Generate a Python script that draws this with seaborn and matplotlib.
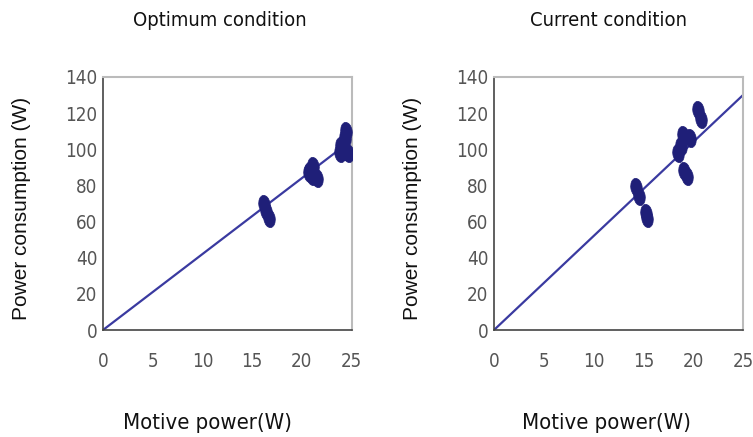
import matplotlib
matplotlib.use("Agg")
import matplotlib.pyplot as plt
from matplotlib.markers import MarkerStyle
from matplotlib.transforms import Affine2D
import seaborn as sns

# ---- data ----
opt_x = [16.2, 16.4, 16.7, 20.8, 21.1, 21.0, 21.5, 20.7, 24.3, 24.4, 23.9, 24.2, 24.6, 23.8]
opt_y = [70, 66, 62, 88, 91, 85, 84, 87, 106, 110, 102, 99, 98, 98]
cur_x = [20.5, 20.8, 19.0, 19.7, 18.8, 18.5, 19.1, 19.4, 14.3, 14.6, 15.3, 15.4]
cur_y = [122, 117, 108, 106, 102, 98, 88, 85, 79, 74, 65, 62]
line_x = [0, 25]
opt_line_y = [0, 105]
cur_line_y = [0, 130]
titles = ["Optimum condition", "Current condition"]
xlabel = "Motive power(W)"
ylabel = "Power consumption (W)"
xticks = [0, 5, 10, 15, 20, 25]
yticks = [0, 20, 40, 60, 80, 100, 120, 140]

sns.set_style("white")
plt.rcParams["font.family"] = ["Liberation Sans", "DejaVu Sans"]
narrow = dict(family=["DejaVu Sans"], stretch="condensed")

fig = plt.figure(figsize=(7.53, 4.37), dpi=100)
ax1 = fig.add_axes([103/753, 1-330/437, 248.5/753, 253/437])
ax2 = fig.add_axes([494/753, 1-330/437, 249/753, 253/437])

pt_col = "#1f1f78"
ln_col = "#3a3aa0"
mk = MarkerStyle("o", transform=Affine2D().scale(0.62, 1.0).rotate_deg(8))

sets = [(ax1, opt_x, opt_y, opt_line_y), (ax2, cur_x, cur_y, cur_line_y)]
for i, (ax, xs, ys, ly) in enumerate(sets):
    sns.lineplot(x=line_x, y=ly, ax=ax, color=ln_col, lw=1.6)
    sns.scatterplot(x=xs, y=ys, ax=ax, color=pt_col, marker=mk, s=175,
                    edgecolor=pt_col, linewidth=0.5, zorder=3)
    ax.set_xlim(0, 25)
    ax.set_ylim(0, 140)
    ax.set_xticks(xticks)
    ax.set_yticks(yticks)
    ax.set_xticklabels([str(t) for t in xticks], fontsize=13.5, color="#555555", **narrow)
    ax.set_yticklabels([str(t) for t in yticks], fontsize=13.5, color="#555555", **narrow)
    ax.tick_params(axis="x", direction="in", length=5, width=1, color="#444444", pad=16)
    ax.tick_params(axis="y", direction="in", length=5, width=1, color="#444444", pad=4)
    for s in ["left", "bottom"]:
        ax.spines[s].set_color("#444444")
        ax.spines[s].set_linewidth(1.2)
    for s in ["top", "right"]:
        ax.spines[s].set_color("#bbbbbb")
        ax.spines[s].set_linewidth(1.5)
    ax.set_xlabel("")
    ax.set_ylabel("")

tkw = dict(ha="center", va="center", fontsize=14.5, color="#111111", **narrow)
xkw = dict(ha="center", va="center", fontsize=15.8, color="#111111", **narrow)
fig.text(220/753, 1-20/437, titles[0], **tkw)
fig.text(609/753, 1-20/437, titles[1], **tkw)
fig.text(208/753, 1-423/437, xlabel, **xkw)
fig.text(606/753, 1-423/437, xlabel, **xkw)
fig.text(22/753, 1-208/437, ylabel, ha="center", va="center", rotation=90, fontsize=15, color="#111111")
fig.text(413/753, 1-208/437, ylabel, ha="center", va="center", rotation=90, fontsize=15, color="#111111")

fig.savefig("out.png", dpi=100)
